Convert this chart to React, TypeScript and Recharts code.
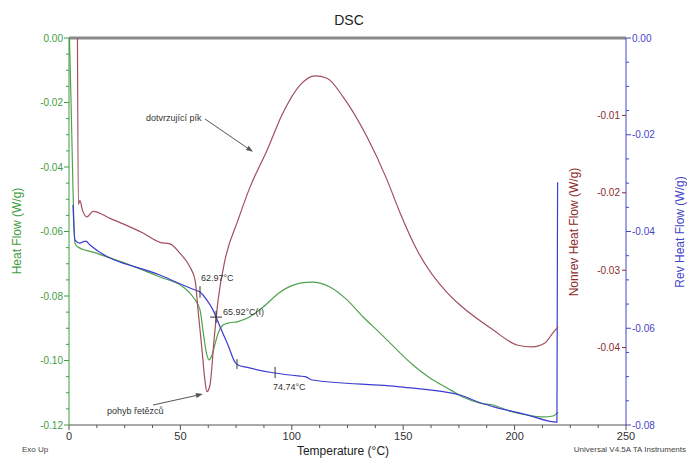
import React from "react";
import { ComposedChart, Line, XAxis, YAxis, ReferenceLine } from "recharts";

// [temperature °C, W/g]
const heatFlowPts: [number, number][] = [
  [0.2, 0], [0.9, -0.0192], [1.6, -0.0409], [2.2, -0.058], [2.7, -0.0636],
  [4.0, -0.0648], [10.8, -0.0664], [25.1, -0.0698], [40.8, -0.0741],
  [51.2, -0.0772], [55.7, -0.0803], [58.8, -0.0843], [60.3, -0.0915],
  [61.6, -0.0974], [62.8, -0.0998], [64.2, -0.0983], [65.5, -0.095],
  [66.4, -0.0927], [69.1, -0.089], [72, -0.0883], [75.4, -0.088],
  [81, -0.0865], [87.1, -0.0834], [94.7, -0.0788], [100, -0.0768],
  [103.7, -0.076], [109.1, -0.0757], [117.1, -0.0772], [124.8, -0.0812],
  [132.0, -0.0865], [139.6, -0.0915], [147.2, -0.0967], [154.4, -0.1014],
  [162.0, -0.1054], [169.7, -0.1085], [176.8, -0.1113], [184.5, -0.1132],
  [190.3, -0.1138], [197.9, -0.1157], [205.6, -0.1169], [212.7, -0.1175],
  [217.2, -0.1172], [219.5, -0.116],
];

const nonrevPts: [number, number][] = [
  [3.8, 0], [4.2, -0.0215], [4.9, -0.021], [6.0, -0.0222], [8.1, -0.0231],
  [10.8, -0.0224], [18.4, -0.0233], [33.2, -0.0252], [40.8, -0.0264],
  [45.3, -0.0266], [49.8, -0.0278], [54.3, -0.0296], [56.6, -0.0313],
  [57.9, -0.0351], [59.7, -0.0403], [61.0, -0.0442], [61.9, -0.0457],
  [63.3, -0.0448], [65.1, -0.039], [66.9, -0.0339], [70.0, -0.0287],
  [75.9, -0.0235], [81.2, -0.0193], [88.9, -0.0145], [96.0, -0.0097],
  [103.7, -0.0061], [110.4, -0.0049], [115.8, -0.0052], [123.0, -0.0076],
  [133.8, -0.0128], [142.7, -0.0183], [148.6, -0.0226], [156.2, -0.0274],
  [169.7, -0.0329], [175.5, -0.0345], [190.3, -0.0377], [201.5, -0.0397],
  [207.8, -0.0399], [213.6, -0.0394], [217.2, -0.0381], [219.5, -0.0373],
];

const revPts: [number, number][] = [
  [1.8, -0.0345], [2.7, -0.0418], [4.9, -0.0424], [6.5, -0.0421],
  [7.5, -0.042], [9.4, -0.0428], [40.8, -0.049], [56.6, -0.0521],
  [58.8, -0.0525], [61.9, -0.0542], [64.6, -0.0562], [67.8, -0.0597],
  [71.4, -0.0635], [74.5, -0.067], [75.9, -0.0676], [80, -0.0681],
  [91.6, -0.0692], [103.7, -0.0699], [106, -0.07], [109.1, -0.0707],
  [148.6, -0.0721], [175.5, -0.0738], [184.5, -0.0754], [190.3, -0.0762],
  [205.6, -0.0779], [219.0, -0.0794], [219.3, -0.0298],
];

const tempMajor = [0, 50, 100, 150, 200, 250];
const hfMajor = [-0.12, -0.1, -0.08, -0.06, -0.04, -0.02, 0];
const nonrevMajor = [-0.04, -0.03, -0.02, -0.01];
const revMajor = [-0.08, -0.06, -0.04, -0.02, 0];

const GREEN = "#3f9c3f";
const RED = "#8b2c2c";
const BLUE = "#4545c8";
const FONT = "'Liberation Sans', Arial, sans-serif";

const withMinors = (major: number[], parts: number) => {
  const out: number[] = [];
  for (let i = 0; i < major.length - 1; i++) {
    const step = (major[i + 1] - major[i]) / parts;
    for (let k = 0; k < parts; k++) out.push(major[i] + step * k);
  }
  out.push(major[major.length - 1]);
  return out;
};

const isIn = (v: number, list: number[]) => list.some((m) => Math.abs(m - v) < 1e-9);

const toRows = (pts: [number, number][]) => pts.map(([t, v]) => ({ t, v }));

const XTick = (p: any) => {
  const { x, y, payload } = p;
  const major = isIn(payload.value, tempMajor);
  const ay = y - 8;
  return (
    <g>
      <line x1={x} x2={x} y1={ay} y2={ay + (major ? 5 : 3)} stroke="#555" />
      {major && (
        <text x={x} y={ay + 15} textAnchor="middle" fontSize={11} fill="#333" fontFamily={FONT}>
          {payload.value}
        </text>
      )}
    </g>
  );
};

const HfTick = (p: any) => {
  const { x, y, payload } = p;
  const major = isIn(payload.value, hfMajor);
  const ax = x + 8;
  return (
    <g>
      <line x1={ax} x2={ax - (major ? 5 : 3)} y1={y} y2={y} stroke={GREEN} />
      {major && (
        <text x={ax - 6} y={y + 3.5} textAnchor="end" fontSize={10} fill={GREEN} fontFamily={FONT}>
          {payload.value.toFixed(2)}
        </text>
      )}
    </g>
  );
};

const NonrevTick = (p: any) => {
  const { x, y, payload } = p;
  const major = isIn(payload.value, nonrevMajor);
  const ax = x + 8;
  return (
    <g>
      {major && <line x1={ax} x2={ax - 4} y1={y} y2={y} stroke={RED} />}
      {major && (
        <text x={ax - 6} y={y + 3.5} textAnchor="end" fontSize={10} fill={RED} fontFamily={FONT}>
          {payload.value.toFixed(2)}
        </text>
      )}
    </g>
  );
};

const RevTick = (p: any) => {
  const { x, y, payload } = p;
  const major = isIn(payload.value, revMajor);
  const ax = x - 8;
  return (
    <g>
      <line x1={ax} x2={ax + (major ? 5 : 3)} y1={y} y2={y} stroke={BLUE} />
      {major && (
        <text x={ax + 6} y={y + 3.5} textAnchor="start" fontSize={10} fill={BLUE} fontFamily={FONT}>
          {payload.value.toFixed(2)}
        </text>
      )}
    </g>
  );
};

const arrowShape = (p: any) => {
  const { x1, y1, x2, y2 } = p;
  const a = Math.atan2(y2 - y1, x2 - x1);
  const bx = x2 - 7 * Math.cos(a);
  const by = y2 - 7 * Math.sin(a);
  const s = Math.sin(a);
  const c = Math.cos(a);
  return (
    <g>
      <line x1={x1} y1={y1} x2={bx} y2={by} stroke="#555" strokeWidth={1} />
      <polygon
        points={`${x2},${y2} ${bx - 2.5 * s},${by + 2.5 * c} ${bx + 2.5 * s},${by - 2.5 * c}`}
        fill="#555"
      />
    </g>
  );
};

export default function App() {
  return (
    <div style={{ position: "absolute", left: 0, top: 0, width: 687, height: 459, background: "#fff" }}>
      <ComposedChart width={687} height={459} margin={{ top: 38, right: 21, bottom: 14, left: 19 }}>
        <XAxis
          type="number"
          dataKey="t"
          domain={[0, 250]}
          ticks={withMinors(tempMajor, 4)}
          interval={0}
          height={20}
          tickSize={6}
          tickMargin={2}
          tickLine={false}
          axisLine={{ stroke: "#555" }}
          tick={XTick}
        />
        <YAxis
          yAxisId="hf"
          type="number"
          domain={[-0.12, 0]}
          allowDataOverflow
          ticks={withMinors(hfMajor, 4)}
          interval={0}
          width={50}
          tickSize={6}
          tickMargin={2}
          tickLine={false}
          axisLine={{ stroke: GREEN }}
          tick={HfTick}
        />
        <YAxis
          yAxisId="nonrev"
          orientation="right"
          mirror
          type="number"
          domain={[-0.05, 0]}
          allowDataOverflow
          ticks={[-0.05, ...nonrevMajor, 0]}
          interval={0}
          width={40}
          tickSize={6}
          tickMargin={2}
          tickLine={false}
          axisLine={false}
          tick={NonrevTick}
        />
        <YAxis
          yAxisId="rev"
          orientation="right"
          type="number"
          domain={[-0.08, 0]}
          allowDataOverflow
          ticks={withMinors(revMajor, 4)}
          interval={0}
          width={40}
          tickSize={6}
          tickMargin={2}
          tickLine={false}
          axisLine={{ stroke: BLUE }}
          tick={RevTick}
        />
        <ReferenceLine yAxisId="hf" y={0} stroke="#8a8a8a" strokeWidth={3} />
        <Line
          yAxisId="hf"
          data={toRows(heatFlowPts)}
          dataKey="v"
          type="monotone"
          stroke="#4ea24e"
          strokeWidth={1.2}
          dot={false}
          activeDot={false}
          isAnimationActive={false}
        />
        <Line
          yAxisId="rev"
          data={toRows(revPts)}
          dataKey="v"
          type="monotone"
          stroke="#3c3cd2"
          strokeWidth={1.2}
          dot={false}
          activeDot={false}
          isAnimationActive={false}
        />
        <Line
          yAxisId="nonrev"
          data={toRows(nonrevPts)}
          dataKey="v"
          type="monotone"
          stroke="#a34f5c"
          strokeWidth={1.2}
          dot={false}
          activeDot={false}
          isAnimationActive={false}
        />
        {/* transition markers */}
        <ReferenceLine yAxisId="rev" segment={[{ x: 58.8, y: -0.0513 }, { x: 58.8, y: -0.0537 }]} stroke="#333" />
        <ReferenceLine yAxisId="rev" segment={[{ x: 66.0, y: -0.0564 }, { x: 66.0, y: -0.0589 }]} stroke="#333" />
        <ReferenceLine yAxisId="rev" segment={[{ x: 63.3, y: -0.0577 }, { x: 68.7, y: -0.0577 }]} stroke="#333" />
        <ReferenceLine yAxisId="rev" segment={[{ x: 75.4, y: -0.0664 }, { x: 75.4, y: -0.0684 }]} stroke="#333" />
        <ReferenceLine yAxisId="rev" segment={[{ x: 92.5, y: -0.068 }, { x: 92.5, y: -0.0703 }]} stroke="#333" />
        {/* annotation arrows */}
        <ReferenceLine yAxisId="hf" segment={[{ x: 61.0, y: -0.0251 }, { x: 82.6, y: -0.0353 }]} shape={arrowShape} />
        <ReferenceLine yAxisId="hf" segment={[{ x: 37.7, y: -0.1138 }, { x: 60.1, y: -0.1104 }]} shape={arrowShape} />
      </ComposedChart>
      <svg
        width={687}
        height={459}
        style={{ position: "absolute", left: 0, top: 0, pointerEvents: "none" }}
        fontFamily={FONT}
      >
        <text x={349} y={25} textAnchor="middle" fontSize={14} fill="#222">DSC</text>
        <text transform="translate(21,231) rotate(-90)" textAnchor="middle" fontSize={12} fill={GREEN}>
          Heat Flow (W/g)
        </text>
        <text transform="translate(578,232) rotate(-90)" textAnchor="middle" fontSize={12} fill={RED}>
          Nonrev Heat Flow (W/g)
        </text>
        <text transform="translate(684,232) rotate(-90)" textAnchor="middle" fontSize={12} fill={BLUE}>
          Rev Heat Flow (W/g)
        </text>
        <text x={343} y={455} textAnchor="middle" fontSize={12} fill="#222">Temperature (°C)</text>
        <text x={22} y={452} fontSize={8} fill="#444">Exo Up</text>
        <text x={686} y={452} textAnchor="end" fontSize={8} fill="#444">Universal V4.5A TA Instruments</text>
        <text x={201} y={281} fontSize={9} fill="#333">62.97°C</text>
        <text x={223} y={315} fontSize={9} fill="#333">65.92°C(I)</text>
        <text x={273} y={390} fontSize={9} fill="#333">74.74°C</text>
        <text x={146} y={121} fontSize={9} fill="#333">dotvrzující pík</text>
        <text x={107} y={414} fontSize={9} fill="#333">pohyb řetězců</text>
      </svg>
    </div>
  );
}
